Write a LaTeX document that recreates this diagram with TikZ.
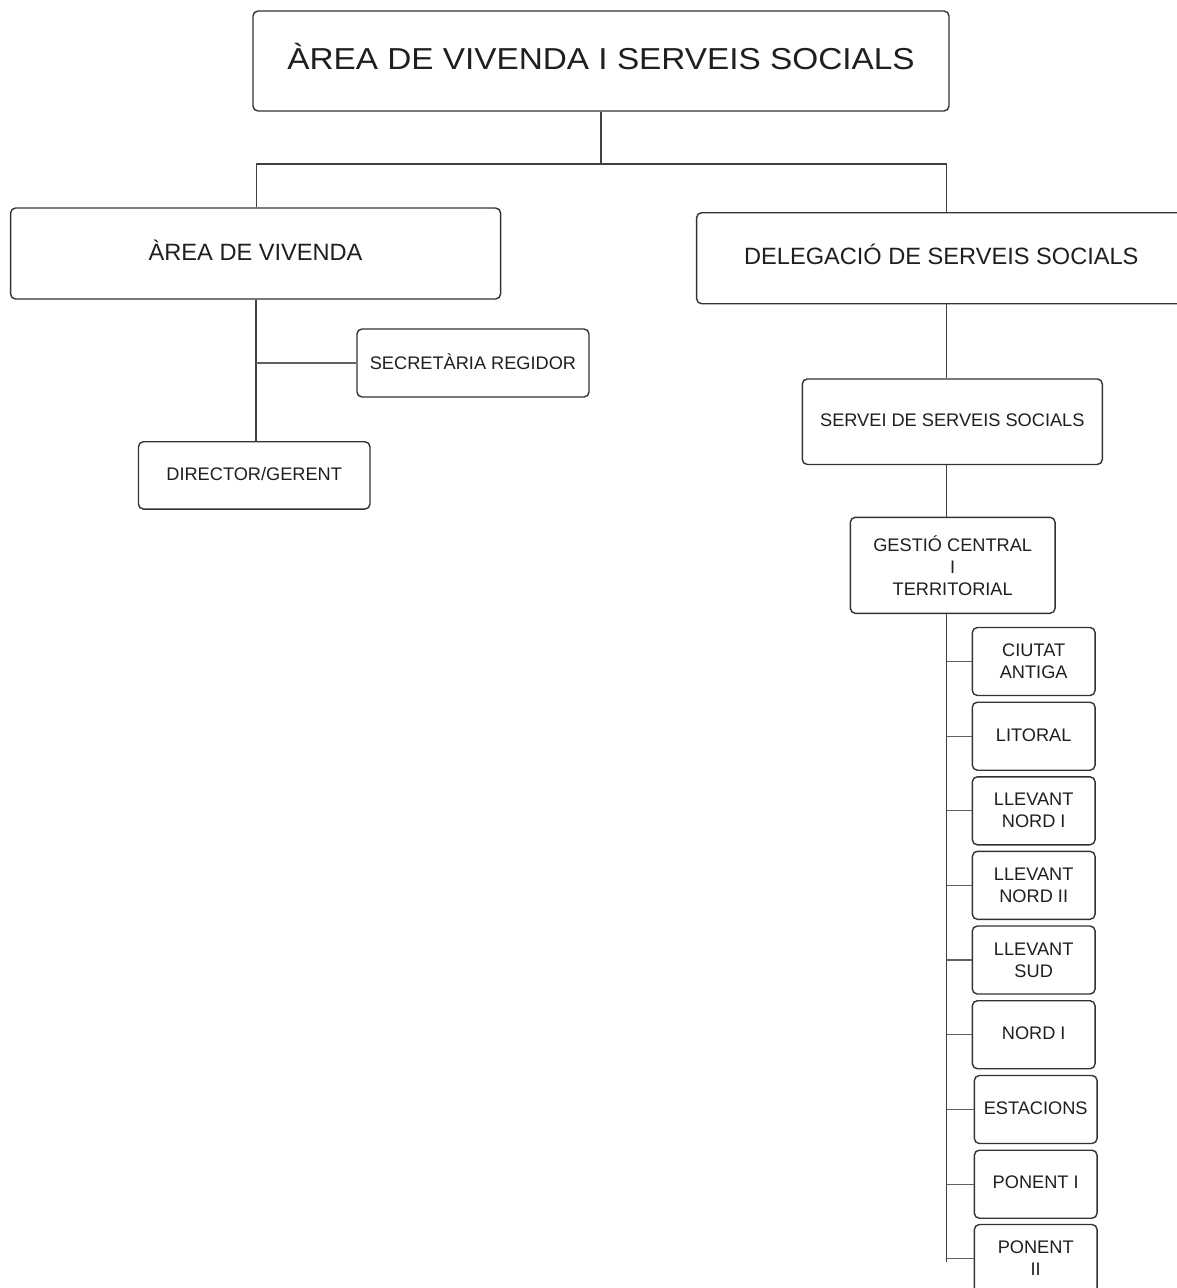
\documentclass[tikz,border=0pt]{standalone}
\usepackage{fontspec}
\setmainfont{Liberation Sans}
\newfontfamily\titlefont[FakeStretch=1.1]{Liberation Sans}
\begin{document}
\begin{tikzpicture}[x=1pt,y=-1pt,
  box/.style={draw=black!80, line width=1.4pt, rounded corners=5pt, inner sep=0pt, text=black!88},
  bigtxt/.style={font=\fontsize{23.6}{28}\selectfont, text height=16.9pt},
  smalltxt/.style={font=\fontsize{18.2}{22}\selectfont},
  oneline/.style={text height=13pt, text depth=#1},
  multi/.style={align=center},
  sbox/.style={box, smalltxt, minimum width=122.7pt, minimum height=68pt},
  conn/.style={draw=black!75, line width=1.2pt},
  stub/.style={draw=black!62, line width=1.2pt}]
\useasboundingbox (0,0) rectangle (1176,1288);
\fill[white] (0,0) rectangle (1176,1288);

% top level
\node[box, minimum width=696pt, minimum height=100pt, font=\titlefont\fontsize{30.3}{36}\selectfont, text height=21.7pt, text depth=5.6pt] (title) at (601,61) {ÀREA DE VIVENDA I SERVEIS SOCIALS};

\node[box, bigtxt, text depth=2.6pt, minimum width=490pt, minimum height=91pt] (av) at (255.6,253.5) {ÀREA DE VIVENDA};
\node[box, bigtxt, text depth=5pt, minimum width=489.4pt, minimum height=91pt] (deleg) at (941.3,258.2) {DELEGACIÓ DE SERVEIS SOCIALS};

% left branch
\node[box, smalltxt, oneline=0.5pt, minimum width=232pt, minimum height=68pt] (secr) at (473,363) {SECRETÀRIA REGIDOR};
\node[box, smalltxt, oneline=2pt, minimum width=231.5pt, minimum height=67.3pt] (dir) at (254.2,475.4) {DIRECTOR/GERENT};

% right branch
\node[box, smalltxt, oneline=3pt, minimum width=300pt, minimum height=85.5pt] (servei) at (952.3,421.7) {SERVEI DE SERVEIS SOCIALS};
\node[box, smalltxt, multi, minimum width=204.7pt, minimum height=96pt] (gestio) at (952.7,565.3) {GESTIÓ CENTRAL\\I\\TERRITORIAL};

\node[sbox, multi] (ciutat) at (1033.7,661.5) {CIUTAT\\ANTIGA};
\node[sbox, oneline=2.8pt] (litoral) at (1033.7,736.2) {LITORAL};
\node[sbox, multi] (lln1) at (1033.7,810.8) {LLEVANT\\NORD I};
\node[sbox, multi] (lln2) at (1033.7,885.3) {LLEVANT\\NORD II};
\node[sbox, multi] (llsud) at (1033.7,960) {LLEVANT\\SUD};
\node[sbox, oneline=4pt] (nord1) at (1033.7,1034.7) {NORD I};
\node[sbox, oneline=3.4pt] (estacions) at (1035.7,1109.5) {ESTACIONS};
\node[sbox, oneline=4pt] (ponent1) at (1035.7,1184.2) {PONENT I};
\node[sbox, multi] (ponent2) at (1035.7,1258.5) {PONENT\\II};

% connectors
\coordinate (jm) at (601.5,164);
\coordinate (jl) at (256.5,164);
\coordinate (jr) at (946.5,164);
\coordinate (lt) at (256,300);
\coordinate (rt) at (946.5,300);
\coordinate (rend) at (946.5,1261.5);

\draw[conn] (title.south) -- (title.south |- jm);
\draw[conn] (jl |- av.north) -- (jl) -- (jr) -- (jr |- deleg.north);

\draw[conn] (lt |- av.south) -- (lt |- dir.north);
\draw[stub] (secr.west) -- (lt |- secr.west);

\draw[conn] (rt |- deleg.south) -- (rt |- servei.north);
\draw[conn] (rt |- servei.south) -- (rt |- gestio.north);
\draw[conn] (rt |- gestio.south) -- (rend);

\foreach \b in {ciutat,litoral,lln1,lln2,llsud,nord1,estacions,ponent1,ponent2}
  \draw[stub] (\b.west) -- (rt |- \b.west);
\end{tikzpicture}
\end{document}
